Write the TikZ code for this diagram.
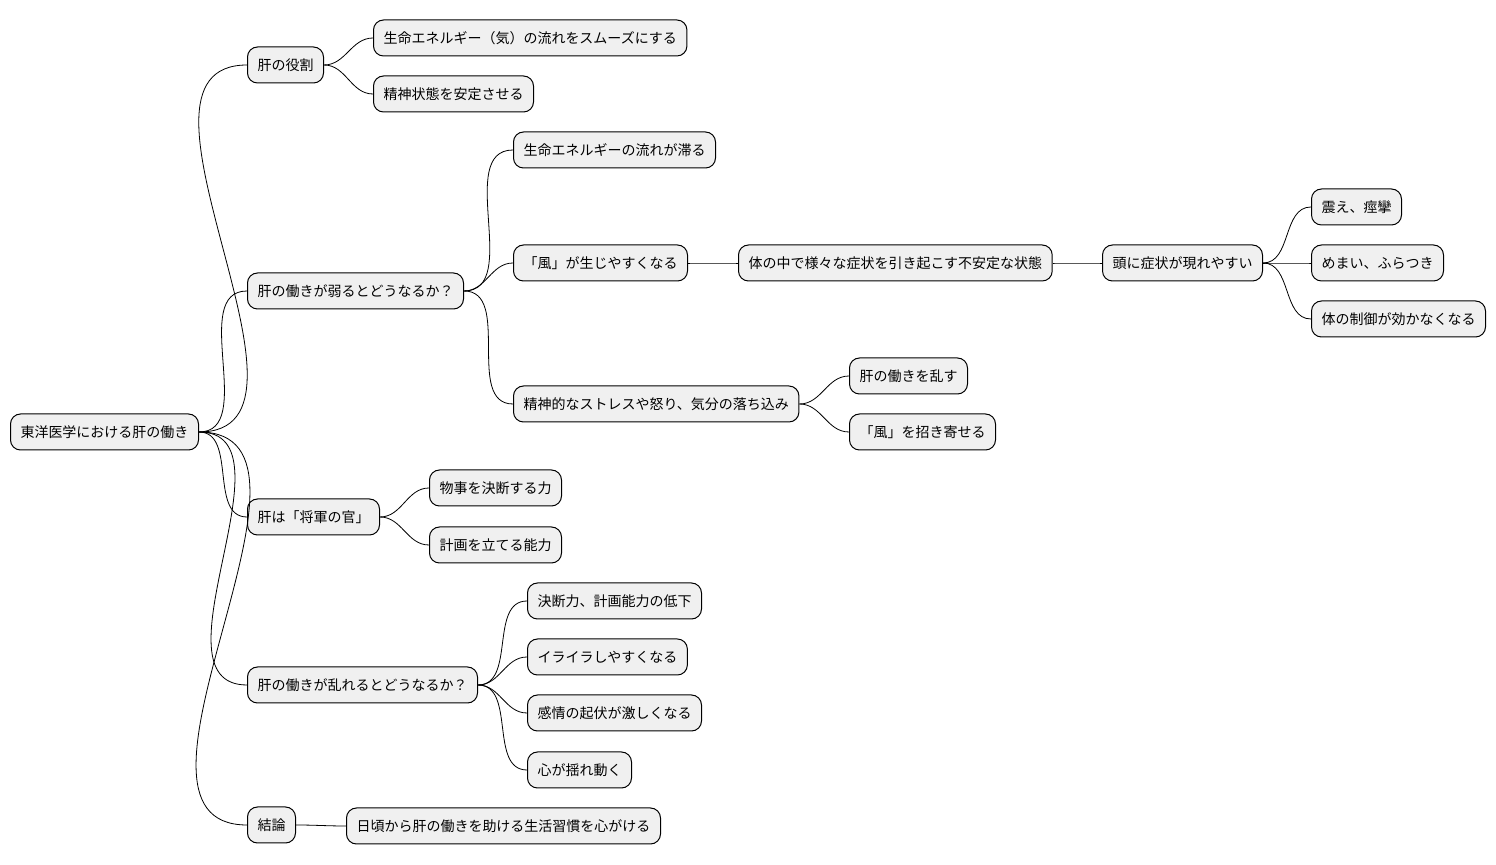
\documentclass[tikz,border=0pt]{standalone}
\usepackage{fontspec}
\newfontfamily\jpfont{Noto Sans CJK JP}
\begin{document}
\begin{tikzpicture}[x=0.5pt,y=-0.5pt]
  \tikzset{
    topic/.style={draw=black, fill=black!6, rounded corners=5pt, anchor=west,
      font=\jpfont\fontsize{7}{8}\selectfont, inner xsep=5pt, minimum height=18pt, line width=0.5pt},
    branch/.style={draw=black, line width=0.4pt}
  }
  \useasboundingbox (0,0) rectangle (1496,865);

  \node [topic] (root) at (10,432) {東洋医学における肝の働き};

  \node [topic] (role) at (247,65) {肝の役割};
  \node [topic] (weak) at (247,291) {肝の働きが弱るとどうなるか？};
  \node [topic] (general) at (247,517) {肝は「将軍の官」};
  \node [topic] (disorder) at (247,685) {肝の働きが乱れるとどうなるか？};
  \node [topic] (concl) at (247,825) {結論};

  \node [topic] (flow) at (373,38) {生命エネルギー（気）の流れをスムーズにする};
  \node [topic] (mind) at (373,94) {精神状態を安定させる};

  \node [topic] (stag) at (513,150) {生命エネルギーの流れが滞る};
  \node [topic] (wind) at (513,263) {「風」が生じやすくなる};
  \node [topic] (stress) at (513,404) {精神的なストレスや怒り、気分の落ち込み};
  \node [topic] (unstable) at (738,263) {体の中で様々な症状を引き起こす不安定な状態};
  \node [topic] (head) at (1102,263) {頭に症状が現れやすい};
  \node [topic] (tremor) at (1311,207) {震え、痙攣};
  \node [topic] (dizzy) at (1311,263) {めまい、ふらつき};
  \node [topic] (control) at (1311,319) {体の制御が効かなくなる};
  \node [topic] (upset) at (849,376) {肝の働きを乱す};
  \node [topic] (invite) at (849,432) {「風」を招き寄せる};

  \node [topic] (decide) at (429,488) {物事を決断する力};
  \node [topic] (plan) at (429,545) {計画を立てる能力};

  \node [topic] (lower) at (527,601) {決断力、計画能力の低下};
  \node [topic] (irrit) at (527,657) {イライラしやすくなる};
  \node [topic] (emot) at (527,713) {感情の起伏が激しくなる};
  \node [topic] (shake) at (527,770) {心が揺れ動く};

  \node [topic] (habit) at (346,826) {日頃から肝の働きを助ける生活習慣を心がける};

  \foreach \p/\c in {root/role, root/weak, root/general, root/disorder, root/concl,
      role/flow, role/mind, weak/stag, weak/wind, weak/stress,
      wind/unstable, unstable/head, head/tremor, head/dizzy, head/control,
      stress/upset, stress/invite, general/decide, general/plan,
      disorder/lower, disorder/irrit, disorder/emot, disorder/shake, concl/habit}
    \draw [branch] (\p.east) to[out=0,in=180] (\c.west);
\end{tikzpicture}
\end{document}
